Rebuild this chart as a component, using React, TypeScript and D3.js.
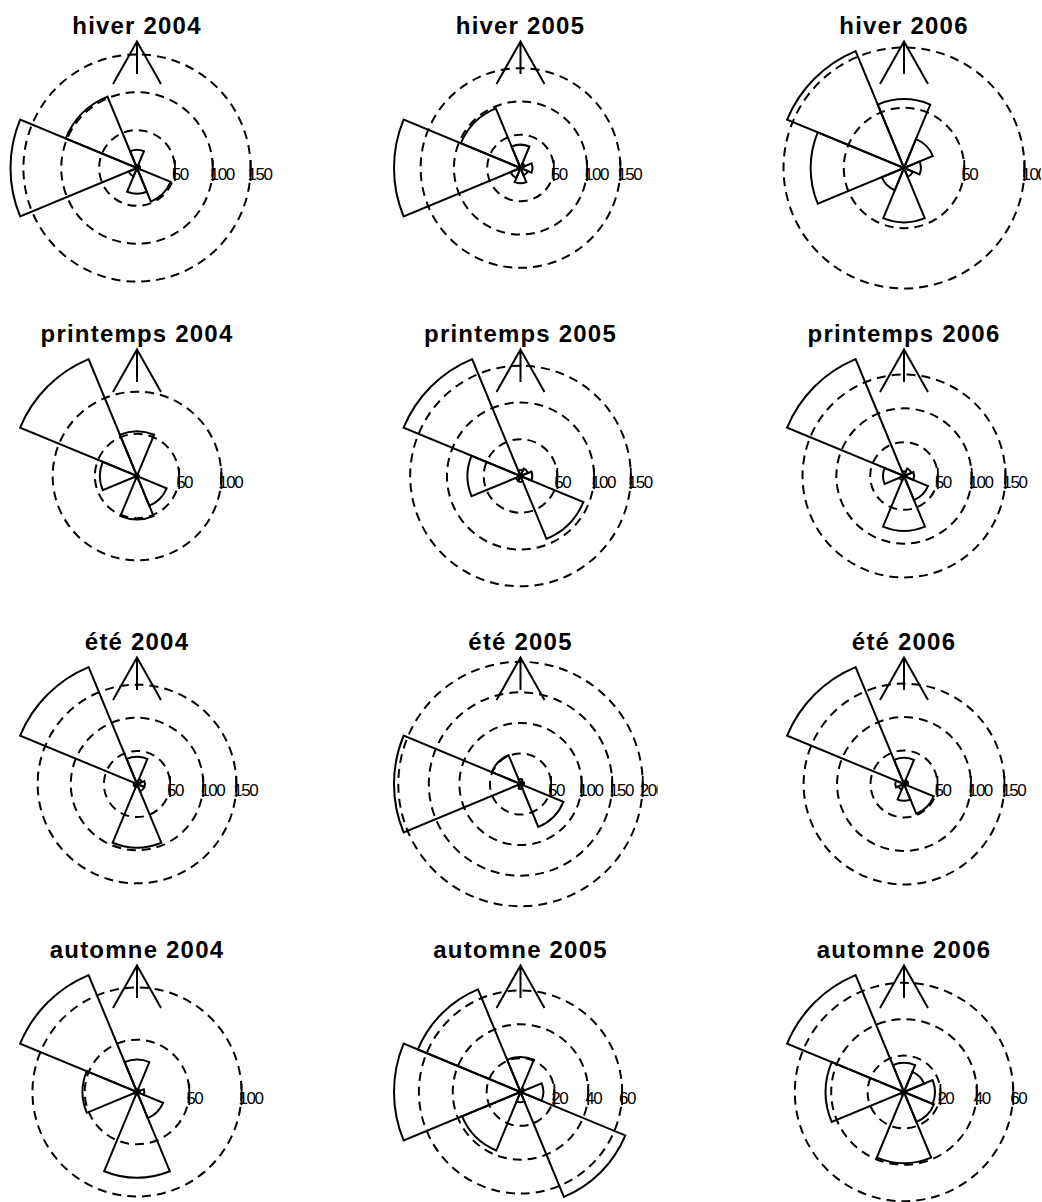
import React from "react";
import * as d3 from "d3";

// Wind direction sectors, clockwise from north
const directions = ["N", "NE", "E", "SE", "S", "SW", "W", "NW"];
const seasons = ["hiver", "printemps", "été", "automne"];
const years = ["2004", "2005", "2006"];

// Counts per sector (order follows `directions`)
const hiver2004 = [24, 4, 4, 48, 34, 12, 167, 102];
const hiver2005 = [35, 7, 18, 12, 23, 16, 190, 97];
const hiver2006 = [57, 26, 14, 8, 45, 20, 77.5, 105];
const printemps2004 = [53, 2, 2, 38, 51.5, 3, 44, 150];
const printemps2005 = [8, 11, 16, 92.5, 8, 7, 72, 172];
const printemps2006 = [7, 12, 15, 38.5, 81, 7, 31, 187];
const ete2004 = [41, 8, 12, 12, 96, 5, 5, 191];
const ete2005 = [8, 5, 6, 76, 8, 5, 207, 51];
const ete2006 = [39, 6, 6, 48, 25, 9, 13, 189];
const automne2004 = [31, 3, 7, 27, 82, 3, 52, 121];
const automne2005 = [20.6, 2.4, 13.5, 67, 6, 37.4, 74.7, 65.6];
const automne2006 = [16, 12, 17, 17.8, 39, 2, 43, 69.5];

// Radial reference circles of each rose
const ticks50to100 = [50, 100];
const ticks50to150 = [50, 100, 150];
const ticks50to200 = [50, 100, 150, 200];
const ticks20to60 = [20, 40, 60];

const countsGrid = [
  [hiver2004, hiver2005, hiver2006],
  [printemps2004, printemps2005, printemps2006],
  [ete2004, ete2005, ete2006],
  [automne2004, automne2005, automne2006],
];
const ticksGrid = [
  [ticks50to150, ticks50to150, ticks50to100],
  [ticks50to100, ticks50to150, ticks50to150],
  [ticks50to150, ticks50to200, ticks50to150],
  [ticks50to100, ticks20to60, ticks20to60],
];

const WIDTH = 1042;
const HEIGHT = 1202;
const R = 126.5; // radius of the longest sector
const COL0 = 137;
const COL_STEP = 383.5;
const ROW0 = 168;
const ROW_STEP = 308;
const FONT = "'Liberation Sans', Arial, Helvetica, sans-serif";

function Rose({ title, counts, ticks, cx, cy, id }) {
  const rScale = d3.scaleLinear().domain([0, d3.max(counts)]).range([0, R]);
  const half = Math.PI / directions.length;
  const arc = d3.arc().innerRadius(0);
  return (
    <g transform={`translate(${cx},${cy})`} clipPath={`url(#${id})`}>
      {ticks.map((t) => (
        <circle
          key={`c${t}`}
          r={rScale(t)}
          fill="none"
          stroke="#000"
          strokeWidth={2}
          strokeDasharray="9,6"
        />
      ))}
      {directions.map((d, i) => {
        const a = (i * 2 * Math.PI) / directions.length;
        return (
          <path
            key={d}
            d={arc({ outerRadius: rScale(counts[i]), startAngle: a - half, endAngle: a + half })}
            fill="none"
            stroke="#000"
            strokeWidth={2}
            strokeLinejoin="miter"
          />
        );
      })}
      {/* north arrow */}
      <path
        d={`M-24,-84 L0,${-R} L24,-84 M0,${-R} L0,-94`}
        fill="none"
        stroke="#000"
        strokeWidth={2}
      />
      {ticks.map((t) => (
        <g key={`t${t}`}>
          <line x1={rScale(t)} x2={rScale(t)} y1={-8} y2={13} stroke="#000" strokeWidth={1.8} />
          <text
            x={rScale(t) - 3}
            y={12}
            fontSize={17}
            letterSpacing={-1.5}
            fontFamily={FONT}
            fill="#000"
          >
            {t}
          </text>
        </g>
      ))}
      <text
        y={-134}
        textAnchor="middle"
        fontSize={24}
        fontWeight="bold"
        letterSpacing={1.2}
        fontFamily={FONT}
        fill="#000"
      >
        {title}
      </text>
    </g>
  );
}

export default function App() {
  const panels = [];
  seasons.forEach((s, i) => {
    years.forEach((y, j) => {
      panels.push({
        id: `clip-${i}-${j}`,
        title: `${s} ${y}`,
        counts: countsGrid[i][j],
        ticks: ticksGrid[i][j],
        cx: COL0 + j * COL_STEP,
        cy: ROW0 + i * ROW_STEP,
      });
    });
  });
  return (
    <svg
      width={WIDTH}
      height={HEIGHT}
      style={{ position: "absolute", left: 0, top: 0, background: "#fff" }}
    >
      <defs>
        {panels.map((p) => (
          <clipPath key={p.id} id={p.id}>
            <rect x={-137} y={-162} width={274} height={310} />
          </clipPath>
        ))}
      </defs>
      <rect width={WIDTH} height={HEIGHT} fill="#fff" />
      {panels.map((p) => (
        <Rose key={p.id} {...p} />
      ))}
    </svg>
  );
}
